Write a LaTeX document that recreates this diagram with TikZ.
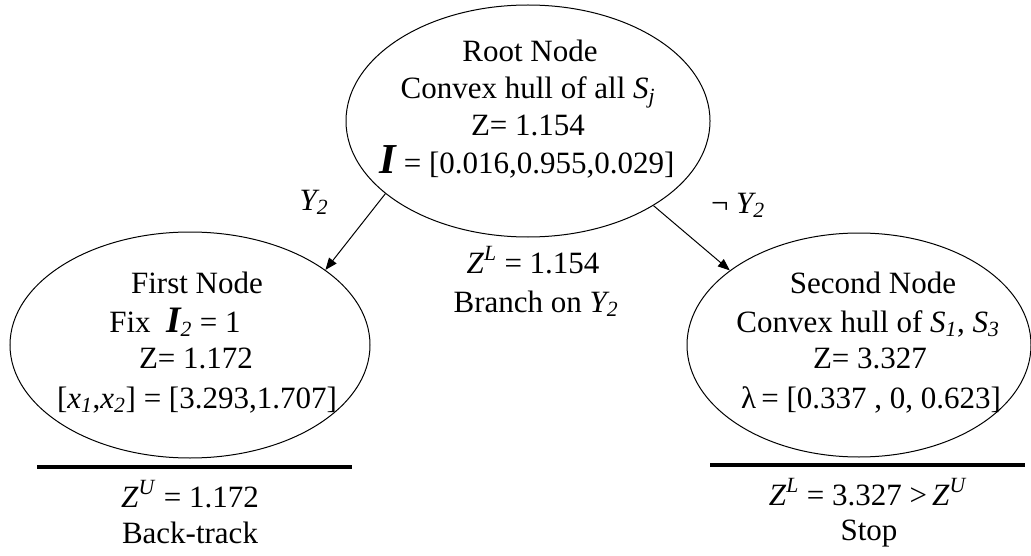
\documentclass[tikz,border=0pt]{standalone}
\usepackage{fontspec}
\setmainfont{Liberation Serif}
\usetikzlibrary{shapes.geometric,arrows.meta}
\newcommand{\bigI}{{\fontsize{32pt}{32pt}\selectfont\bfseries\itshape I}}
\newcommand{\midI}{{\fontsize{28pt}{28pt}\selectfont\bfseries\itshape I}}
\begin{document}
\begin{tikzpicture}[x=0.75pt,y=-0.75pt,
  ell/.style={draw, ellipse, line width=0.75pt, inner sep=0pt},
  txt/.style={anchor=base, inner sep=0pt, font=\fontsize{23.25pt}{27.75pt}\selectfont},
  arr/.style={-{Triangle[length=9pt,width=7pt]}, line width=0.75pt},
  bar/.style={line width=3pt}]
\useasboundingbox (0,0) rectangle (1031,556);
% ellipses
\node[ell, minimum width=273pt, minimum height=174pt] (root) at (528,121) {};
\node[ell, minimum width=270pt, minimum height=169.5pt] (first) at (190,345) {};
\node[ell, minimum width=258pt, minimum height=168pt] (second) at (859,345) {};
% root text
\node[txt] (r1) at (530,62) {Root Node};
\node[txt] (r2) at (528,99) {Convex hull of all \textit{S\textsubscript{j}}};
\node[txt] (r3) at (528,136) {Z= 1.154};
\node[txt] (r4) at (527,174) {\bigI{} = [0.016,0.955,0.029]};
% first node text
\node[txt] (f1) at (197,293) {First Node};
\node[txt] (f2) at (175,332) {Fix\ \ \midI\textsubscript{\textit{2}} = 1};
\node[txt] (f3) at (196,368) {Z= 1.172};
\node[txt] (f4) at (197,408) {[\textit{x\textsubscript{1}},\textit{x\textsubscript{2}}] = [3.293,1.707]};
% second node text
\node[txt] (s1) at (873,293) {Second Node};
\node[txt] (s2) at (868,332) {Convex hull of \textit{S\textsubscript{1}}, \textit{S\textsubscript{3}}};
\node[txt] (s3) at (870,368) {Z= 3.327};
\node[txt] (s4) at (871,408) {λ\,= [0.337 , 0, 0.623]};
% middle text
\node[txt] (m1) at (533,273) {\textit{Z}\textsuperscript{\textit{L}} = 1.154};
\node[txt] (m2) at (536,312) {Branch on \textit{Y\textsubscript{2}}};
% branch labels
\node[txt] (ly) at (314,210) {\textit{Y\textsubscript{2}}};
\node[txt] (lny) at (738,213) {¬ \textit{Y\textsubscript{2}}};
% bottom texts
\node[txt] (b1) at (190,507) {\textit{Z}\textsuperscript{\textit{U}} = 1.172};
\node[txt] (b2) at (190,543) {Back-track};
\node[txt] (c1) at (868,505) {\textit{Z}\textsuperscript{\textit{L}} = 3.327 {>}\,\textit{Z}\textsuperscript{\textit{U}}};
\node[txt] (c2) at (869,540) {Stop};
% bars
\draw[bar] (37,467) -- (352,467);
\draw[bar] (710,465) -- (1025,465);
% arrows
\draw[arr] (root.207.9) -- (first.29);
\draw[arr] (root.326.8) -- (second.150);
\end{tikzpicture}
\end{document}
